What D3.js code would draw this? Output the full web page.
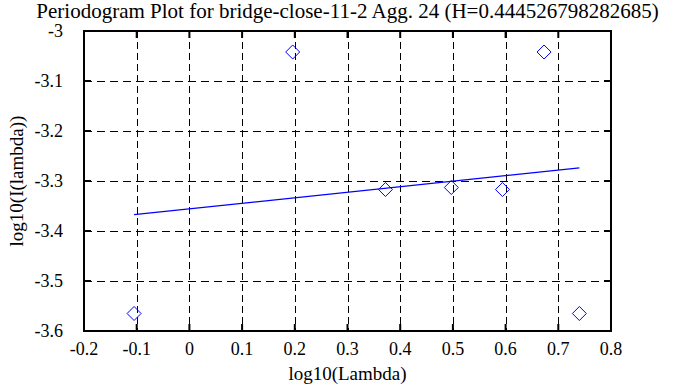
<!DOCTYPE html>
<html>
<head>
<script src="https://cdn.jsdelivr.net/npm/d3@7"></script>
<style>
  svg text { font-family: "Liberation Serif", "Times New Roman", Times, serif !important; }
</style>
</head>
<body style="margin:0">
<div id="chart"></div>
<script>
// log10(lambda) and log10(I(lambda))
var logLambda = [-0.105, 0.196, 0.372, 0.497, 0.594, 0.673, 0.740];
var logPeriod = [-3.565, -3.042, -3.317, -3.313, -3.317, -3.042, -3.565];

var xTicks = [-0.2, -0.1, 0, 0.1, 0.2, 0.3, 0.4, 0.5, 0.6, 0.7, 0.8];
var yTicks = [-3, -3.1, -3.2, -3.3, -3.4, -3.5, -3.6];

var title = "Periodogram Plot for bridge-close-11-2 Agg. 24 (H=0.444526798282685)";

var W = 695, H = 387;
var margin = {left: 84, right: 84, top: 31, bottom: 56};
var width = W - margin.left - margin.right,
    height = H - margin.top - margin.bottom;

var serif = "Liberation Serif, Times New Roman, Times, serif";

var x = d3.scaleLinear().domain([-0.2, 0.8]).range([0, width]);
var y = d3.scaleLinear().domain([-3.6, -3]).range([height, 0]);

// plain hyphen minus, like the original
var fmt = function(d) { return String(+d.toFixed(1)); };

var svg = d3.select("#chart").append("svg")
  .attr("width", W)
  .attr("height", H)
  .attr("font-family", serif);

var g = svg.append("g")
  .attr("transform", "translate(" + margin.left + "," + margin.top + ")");

var tickLen = 7;

// grid (dashed), inner ticks only
g.selectAll(".vgrid")
  .data(xTicks.slice(1, -1))
  .enter().append("line")
  .attr("x1", function(d) { return Math.round(x(d)) + 0.5; })
  .attr("x2", function(d) { return Math.round(x(d)) + 0.5; })
  .attr("y1", 0)
  .attr("y2", height)
  .attr("stroke", "#000")
  .attr("stroke-width", 1)
  .attr("stroke-dasharray", "7,4");

g.selectAll(".hgrid")
  .data(yTicks.slice(1, -1))
  .enter().append("line")
  .attr("y1", function(d) { return Math.round(y(d)) + 0.5; })
  .attr("y2", function(d) { return Math.round(y(d)) + 0.5; })
  .attr("x1", 0)
  .attr("x2", width)
  .attr("stroke", "#000")
  .attr("stroke-width", 1)
  .attr("stroke-dasharray", "8,5");

// ticks on all four sides, pointing in
var ticks = g.append("g").attr("stroke", "#000").attr("stroke-width", 2);
xTicks.forEach(function(d) {
  ticks.append("line").attr("x1", x(d)).attr("x2", x(d)).attr("y1", height).attr("y2", height - tickLen);
  ticks.append("line").attr("x1", x(d)).attr("x2", x(d)).attr("y1", 0).attr("y2", tickLen);
});
yTicks.forEach(function(d) {
  ticks.append("line").attr("y1", y(d)).attr("y2", y(d)).attr("x1", 0).attr("x2", tickLen);
  ticks.append("line").attr("y1", y(d)).attr("y2", y(d)).attr("x1", width).attr("x2", width - tickLen);
});

// frame
g.append("rect")
  .attr("width", width)
  .attr("height", height)
  .attr("fill", "none")
  .attr("stroke", "#000")
  .attr("stroke-width", 2);

// tick labels
g.selectAll(".xlab")
  .data(xTicks)
  .enter().append("text")
  .attr("x", function(d) { return x(d); })
  .attr("y", height + 24)
  .attr("text-anchor", "middle")
  .attr("font-size", 18)
  .attr("font-family", serif)
  .text(fmt);

g.selectAll(".ylab")
  .data(yTicks)
  .enter().append("text")
  .attr("x", -21)
  .attr("y", function(d) { return y(d); })
  .attr("dy", "0.35em")
  .attr("text-anchor", "end")
  .attr("font-size", 18)
  .attr("font-family", serif)
  .text(fmt);

// least squares fit through the points
var mx = d3.mean(logLambda), my = d3.mean(logPeriod);
var sxy = d3.sum(logLambda, function(v, i) { return (v - mx) * (logPeriod[i] - my); });
var sxx = d3.sum(logLambda, function(v) { return (v - mx) * (v - mx); });
var slope = sxy / sxx, icpt = my - slope * mx;
var fitX = d3.extent(logLambda);

g.append("line")
  .attr("x1", x(fitX[0]))
  .attr("y1", y(icpt + slope * fitX[0]))
  .attr("x2", x(fitX[1]))
  .attr("y2", y(icpt + slope * fitX[1]))
  .attr("stroke", "#0000ff")
  .attr("stroke-width", 1.2);

// diamonds
var r = 7;
g.selectAll(".pt")
  .data(logLambda)
  .enter().append("path")
  .attr("transform", function(d, i) { return "translate(" + x(d) + "," + y(logPeriod[i]) + ")"; })
  .attr("d", "M0," + (-r) + "L" + r + ",0L0," + r + "L" + (-r) + ",0Z")
  .attr("fill", "none")
  .attr("stroke", "#0000ff")
  .attr("stroke-width", 1);

// titles
svg.append("text")
  .attr("x", margin.left + width / 2)
  .attr("y", 18)
  .attr("text-anchor", "middle")
  .attr("font-size", 21)
  .attr("font-family", serif)
  .text(title);

svg.append("text")
  .attr("x", margin.left + width / 2)
  .attr("y", 380)
  .attr("text-anchor", "middle")
  .attr("font-size", 19)
  .attr("font-family", serif)
  .text("log10(Lambda)");

svg.append("text")
  .attr("transform", "translate(23," + (margin.top + height / 2) + ")rotate(-90)")
  .attr("text-anchor", "middle")
  .attr("font-size", 19)
  .attr("font-family", serif)
  .text("log10(I(lambda))");
</script>
</body>
</html>
